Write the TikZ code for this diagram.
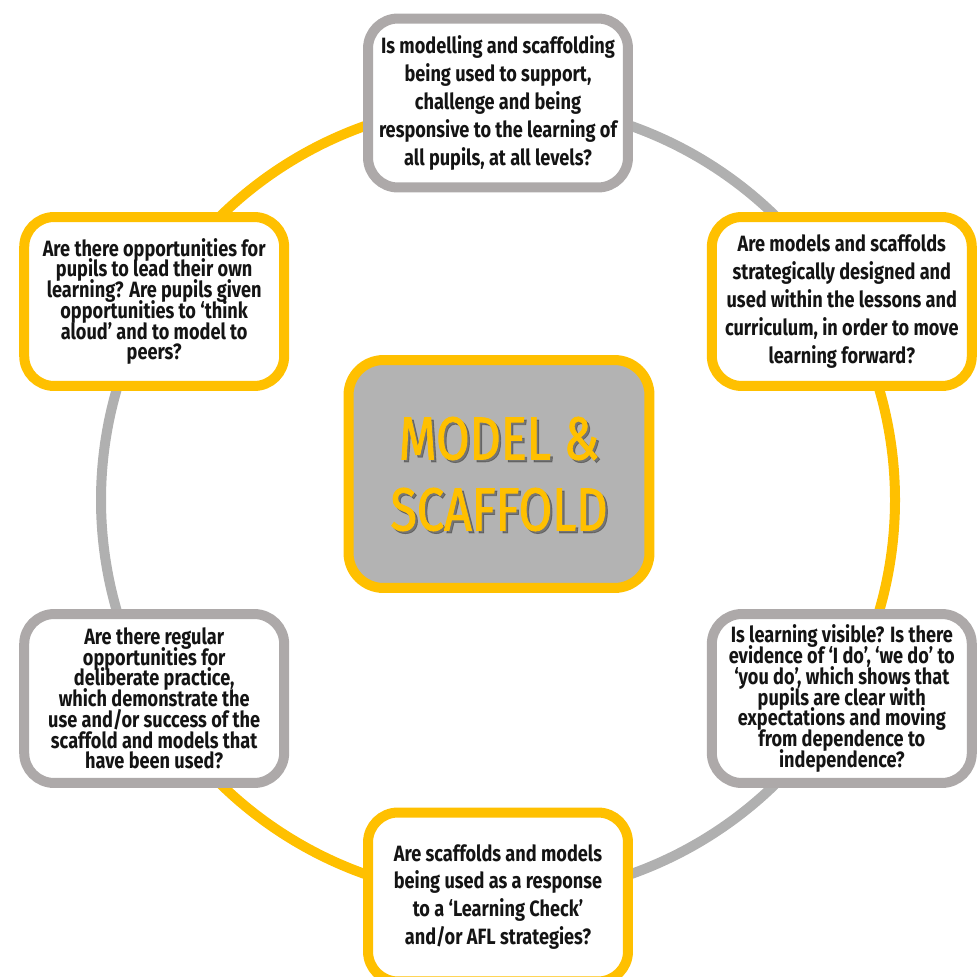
\documentclass[tikz,border=0pt]{standalone}
\usepackage{fontspec}
\setmainfont{Fira Sans}[FakeStretch=0.82]
\newfontfamily\hubfont{Fira Sans}[FakeStretch=0.8, FakeBold=1.4]
\definecolor{amber}{HTML}{FFC000}
\definecolor{boxgrey}{HTML}{ADA9A9}
\definecolor{ringgrey}{HTML}{B0B0B0}
\definecolor{fillgrey}{HTML}{B3B3B3}
\usetikzlibrary{calc,backgrounds}
\def\ringr{397}
\newcommand\tightlines{\lineskiplimit=-20pt\relax}

\begin{document}
\begin{tikzpicture}[x=0.02cm, y=0.02cm,
  qbox/.style={draw, line width=0.2cm, rounded corners=0.6cm, fill=white,
    minimum width=5.2cm, minimum height=3.38cm, align=center, inner sep=0pt,
    text=black!92, font=\bfseries\fontsize{12.6}{15.9}\selectfont},
  tightbox/.style={qbox, font=\bfseries\fontsize{12.6}{11.8}\selectfont\tightlines},
  ringline/.style={line width=0.2cm},
  hubbox/.style={draw=amber, fill=fillgrey, line width=0.2cm, rounded corners=0.7cm,
    minimum width=6.02cm, minimum height=4.56cm},
  hubtext/.style={align=center, inner sep=0pt, font=\hubfont\fontsize{34.5}{40.4}\selectfont}]

\clip (0,0) rectangle (979,-976);

% ring centre
\coordinate (ctr) at (498,-500);

% QUESTION BOXES
\node[qbox, draw=boxgrey] (top) at ($(ctr)+(90:\ringr)$)
  {Is modelling and scaffolding\\being used to support,\\challenge and being\\responsive to the learning of\\all pupils, at all levels?};
\node[qbox, draw=amber] (rtop) at ($(ctr)+(30:\ringr)$)
  {Are models and scaffolds\\strategically designed and\\used within the lessons and\\curriculum, in order to move\\learning forward?};
\node[tightbox, draw=boxgrey] (rbot) at ($(ctr)+(-30:\ringr)$)
  {Is learning visible? Is there\\evidence of ‘I do’, ‘we do’ to\\‘you do’, which shows that\\pupils are clear with\\expectations and moving\\from dependence to\\independence?};
\node[qbox, draw=amber] (bot) at ($(ctr)+(-90:\ringr)$)
  {Are scaffolds and models\\being used as a response\\to a ‘Learning Check’\\and/or AFL strategies?};
\node[tightbox, draw=boxgrey] (lbot) at ($(ctr)+(-150:\ringr)$)
  {Are there regular\\opportunities for\\deliberate practice,\\which demonstrate the\\use and/or success of the\\scaffold and models that\\have been used?};
\node[tightbox, draw=amber] (ltop) at ($(ctr)+(150:\ringr)$)
  {Are there opportunities for\\pupils to lead their own\\learning? Are pupils given\\opportunities to ‘think\\aloud’ and to model to\\peers?};

% RING
\begin{scope}[on background layer]
\draw[ringline, ringgrey] (top.center) arc[start angle=90, end angle=30, radius=\ringr];
\draw[ringline, amber] (rtop.center) arc[start angle=30, end angle=-30, radius=\ringr];
\draw[ringline, ringgrey] (rbot.center) arc[start angle=-30, end angle=-90, radius=\ringr];
\draw[ringline, amber] (bot.center) arc[start angle=-90, end angle=-150, radius=\ringr];
\draw[ringline, ringgrey] (lbot.center) arc[start angle=-150, end angle=-210, radius=\ringr];
\draw[ringline, amber] (ltop.center) arc[start angle=150, end angle=90, radius=\ringr];
\end{scope}

% HUB
\node[hubbox] (hub) at ($(ctr)+(1,26)$) {};
\node[hubtext, text=black!70, opacity=0.6] (hubshadow) at ($(hub)+(2.5,-2.5)$) {MODEL \&\\SCAFFOLD};
\node[hubtext, text=amber] (hubtitle) at (hub) {MODEL \&\\SCAFFOLD};

\end{tikzpicture}
\end{document}
